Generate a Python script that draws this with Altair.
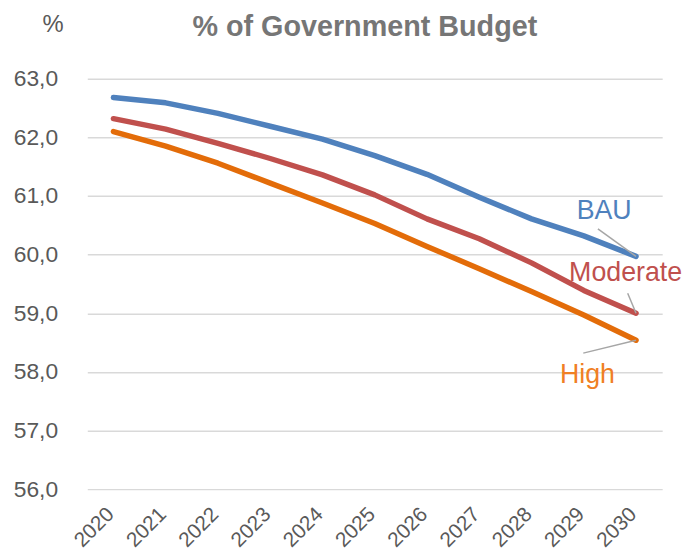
import altair as alt
import pandas as pd

years = list(range(2020, 2031))
bau = [62.68, 62.59, 62.41, 62.19, 61.97, 61.69, 61.37, 60.98, 60.61, 60.32, 59.97]
moderate = [62.32, 62.14, 61.90, 61.64, 61.36, 61.02, 60.61, 60.27, 59.86, 59.39, 59.00]
high = [62.10, 61.85, 61.56, 61.22, 60.88, 60.53, 60.14, 59.76, 59.37, 58.97, 58.54]

series_names = ["BAU", "Moderate", "High"]
line_colors = ["#4F81BD", "#C0504D", "#E36C09"]
label_colors = ["#4F81BD", "#C0504D", "#F07F24"]

# annotation positions (data units)
label_year = [2029.39, 2029.80, 2029.07]
label_val = [60.75, 59.68, 57.95]
leader_year = [2029.27, 2029.84, 2028.99]
leader_val = [60.44, 59.34, 58.32]
end_val = [bau[-1], moderate[-1], high[-1]]

rows = []
for name, vals in zip(series_names, [bau, moderate, high]):
    for y, v in zip(years, vals):
        rows.append({"year": y, "value": v, "series": name})
df = pd.DataFrame(rows)

ann = pd.DataFrame({
    "series": series_names,
    "ly": label_year, "lv": label_val,
    "sy": leader_year, "sv": leader_val,
    "ey": [2030] * 3, "ev": end_val,
    "color": label_colors,
})

xscale = alt.Scale(domain=[2019.5, 2030.5], nice=False, zero=False)
yscale = alt.Scale(domain=[56, 63], nice=False, zero=False)

lines = alt.Chart(df).mark_line(strokeWidth=5.5, strokeCap="round", strokeJoin="round").encode(
    x=alt.X("year:Q", scale=xscale,
            axis=alt.Axis(values=years, format="d", labelAngle=-45, labelFontSize=21,
                          labelColor="#595959", labelFont="Liberation Sans", grid=False,
                          domain=False, ticks=False, title=None, labelPadding=22,
                          labelOffset=-3, labelAlign="right", labelBaseline="middle")),
    y=alt.Y("value:Q", scale=yscale,
            axis=alt.Axis(values=[56, 57, 58, 59, 60, 61, 62, 63],
                          labelExpr="replace(format(datum.value, '.1f'), '.', ',')",
                          labelFontSize=23, labelColor="#595959", labelFont="Liberation Sans",
                          grid=True, gridColor="#D9D9D9", gridWidth=1.5,
                          domain=False, ticks=False, labelPadding=30,
                          title="%", titleAngle=0, titleX=-35, titleY=-55,
                          titleFontSize=24, titleFontWeight="normal", titleColor="#595959",
                          titleFont="Liberation Sans", titleAlign="center",
                          titleBaseline="middle")),
    color=alt.Color("series:N", scale=alt.Scale(domain=series_names, range=line_colors),
                    legend=None),
    detail="series:N",
)

leaders = alt.Chart(ann).mark_rule(color="#A6A6A6", strokeWidth=1.5).encode(
    x=alt.X("sy:Q", scale=xscale), y=alt.Y("sv:Q", scale=yscale),
    x2="ey:Q", y2="ev:Q",
)

labels = alt.Chart(ann).mark_text(fontSize=27, font="Liberation Sans",
                                  align="center", baseline="middle").encode(
    x=alt.X("ly:Q", scale=xscale), y=alt.Y("lv:Q", scale=yscale),
    text="series:N",
    color=alt.Color("color:N", scale=None),
)

chart = alt.layer(lines, leaders, labels).properties(
    width=580, height=414,
    autosize=alt.AutoSizeParams(type="none"),
    padding={"left": 80, "top": 69, "right": 20, "bottom": 59},
    title=alt.TitleParams("% of Government Budget", anchor="middle", fontSize=29,
                          fontWeight="bold", color="#767676", font="Liberation Sans",
                          offset=0, dy=30, dx=-10),
).configure_view(stroke=None)

chart.save("out.html", embed_options={"renderer": "svg", "actions": False})
